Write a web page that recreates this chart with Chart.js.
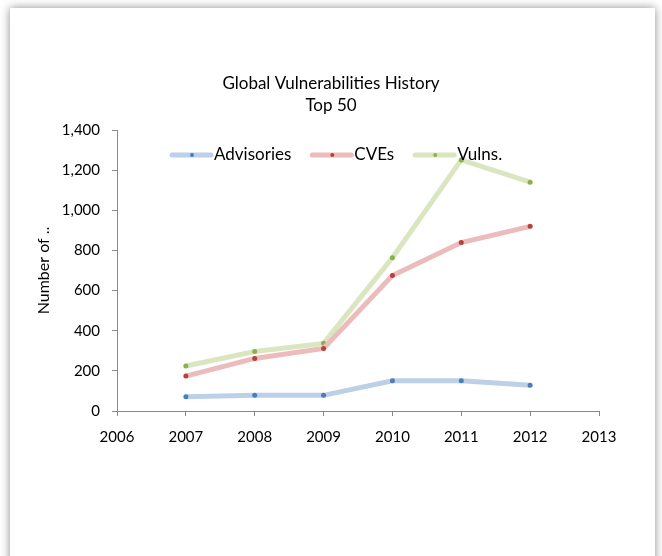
<!DOCTYPE html>
<html>
<head>
<meta charset="utf-8">
<script src="https://cdn.jsdelivr.net/npm/chart.js@4/dist/chart.umd.min.js"></script>
<style>
    html, body {
        margin: 0;
        padding: 0;
        background: #ffffff;
        overflow: hidden;
    }
    .card {
        position: absolute;
        left: 10px;
        top: 8px;
        width: 645px;
        height: 580px;
        background: #ffffff;
        box-shadow: 0 0 9px rgba(0, 0, 0, 0.45);
    }
    #historyChart {
        position: absolute;
        left: 0;
        top: 0;
    }
</style>
</head>
<body>
<div class="card"></div>
<canvas id="historyChart" width="662" height="556"></canvas>

<script>
    // Yearly counts, top 50 vendors
    const years = [2007, 2008, 2009, 2010, 2011, 2012];
    const advisories = [71, 78, 78, 151, 151, 128];
    const cves = [174, 262, 312, 675, 839, 920];
    const vulns = [224, 296, 337, 764, 1251, 1140];
    const titleLines = ['Global Vulnerabilities History', 'Top 50'];

    const FONT = 'Lato, "Open Sans", sans-serif';

    const toPoints = values => values.map((v, i) => ({ x: years[i], y: v }));

    function series(label, values, line, dot) {
        return {
            label: label,
            data: toPoints(values),
            borderColor: line,
            borderWidth: 5,
            pointRadius: 2.5,
            pointBackgroundColor: dot,
            pointBorderWidth: 0,
            tension: 0,
            dotColor: dot
        };
    }

    // Title and in-plot legend, drawn over the lines
    const decorations = {
        id: 'decorations',
        afterDatasetsDraw(chart) {
            const ctx = chart.ctx;
            ctx.save();
            ctx.fillStyle = '#000';
            ctx.textAlign = 'center';
            ctx.textBaseline = 'middle';
            ctx.font = '17px ' + FONT;
            ctx.fillText(titleLines[0], 331, 84);
            ctx.fillText(titleLines[1], 331, 106);

            ctx.textAlign = 'left';
            let x = 172;
            const y = 155;
            chart.data.datasets.forEach(ds => {
                ctx.strokeStyle = ds.borderColor;
                ctx.lineWidth = 5;
                ctx.lineCap = 'round';
                ctx.beginPath();
                ctx.moveTo(x, y);
                ctx.lineTo(x + 39, y);
                ctx.stroke();
                ctx.fillStyle = ds.dotColor;
                ctx.beginPath();
                ctx.arc(x + 20, y, 2, 0, Math.PI * 2);
                ctx.fill();
                ctx.fillStyle = '#000';
                ctx.fillText(ds.label, x + 42, y);
                x += 42 + ctx.measureText(ds.label).width + 21;
            });
            ctx.restore();
        }
    };

    new Chart(document.getElementById('historyChart'), {
        type: 'line',
        data: {
            datasets: [
                series('Advisories', advisories, '#bcd0e8', '#4a7ebb'),
                series('CVEs', cves, '#ebbcbb', '#b8413e'),
                series('Vulns.', vulns, '#d9e6c0', '#8cb04a')
            ]
        },
        plugins: [decorations],
        options: {
            responsive: false,
            animation: false,
            layout: { padding: { left: 30, right: 63, top: 130, bottom: 105 } },
            plugins: {
                legend: { display: false },
                title: { display: false },
                tooltip: { enabled: false }
            },
            scales: {
                x: {
                    type: 'linear',
                    min: 2006,
                    max: 2013,
                    afterFit: s => { s.height = 40; },
                    ticks: {
                        stepSize: 1,
                        padding: 12,
                        color: '#000',
                        font: { family: FONT, size: 15 },
                        callback: v => String(v)
                    },
                    grid: { drawOnChartArea: false, tickLength: 5, color: '#8a8a8a' },
                    border: { color: '#8a8a8a' }
                },
                y: {
                    min: 0,
                    max: 1400,
                    afterFit: s => { s.width = 87; },
                    ticks: {
                        stepSize: 200,
                        padding: 12,
                        color: '#000',
                        font: { family: FONT, size: 15 },
                        callback: v => v.toLocaleString('en-US')
                    },
                    title: {
                        display: true,
                        text: 'Number of ..',
                        color: '#000',
                        font: { family: FONT, size: 16 },
                        padding: { top: 4, bottom: 0 }
                    },
                    grid: { drawOnChartArea: false, tickLength: 5, color: '#8a8a8a' },
                    border: { color: '#8a8a8a' }
                }
            }
        }
    });
</script>
</body>
</html>
